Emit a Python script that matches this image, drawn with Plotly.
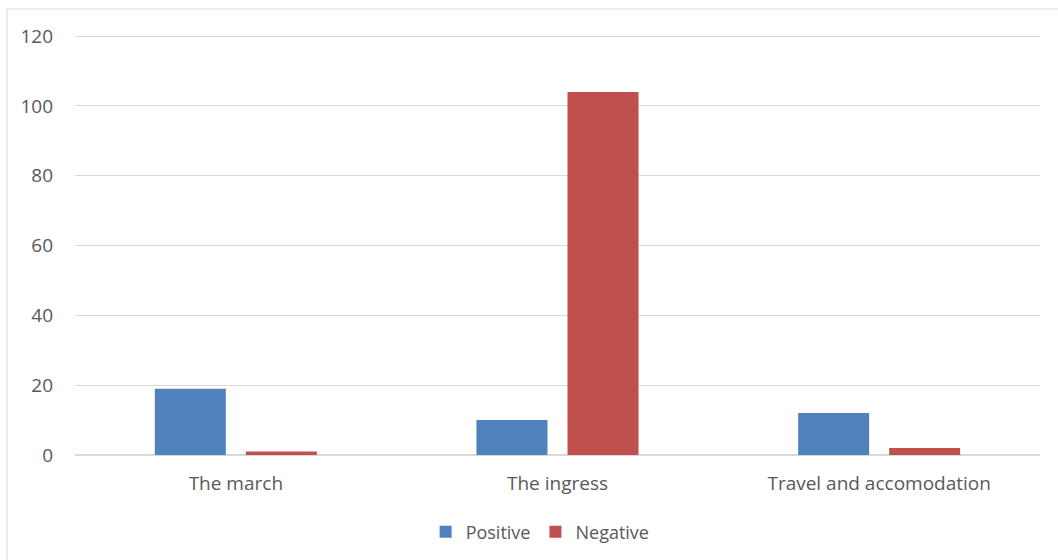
import plotly.graph_objects as go

categories = ["The march", "The ingress", "Travel and accomodation"]
positive = [19, 10, 12]
negative = [1, 104, 2]
y_ticks = [0, 20, 40, 60, 80, 100, 120]

font_family = "Open Sans, Lato, sans-serif"
text_color = "#595959"

fig = go.Figure()
fig.add_trace(go.Bar(name="Positive", x=categories, y=positive,
                     marker=dict(color="#4F81BD", line=dict(width=0))))
fig.add_trace(go.Bar(name="Negative", x=categories, y=negative,
                     marker=dict(color="#C0504D", line=dict(width=0))))

fig.update_layout(
    width=1058, height=560,
    margin=dict(l=75, r=18, t=35, b=105, autoexpand=False),
    paper_bgcolor="white", plot_bgcolor="white",
    barmode="group", bargap=0.434, bargroupgap=0.22,
    font=dict(family=font_family, color=text_color, size=19),
    showlegend=True,
    legend=dict(orientation="h", x=0.482, xanchor="center",
                yref="container", y=0.05, yanchor="middle",
                font=dict(size=18, color=text_color), itemwidth=30,
                traceorder="normal"),
    xaxis=dict(showgrid=False, showline=False, ticks="", ticklabelstandoff=15,
               tickfont=dict(size=19, color=text_color)),
    yaxis=dict(range=[0, 120.3], tickvals=y_ticks, showgrid=True, gridcolor="#d9d9d9",
               gridwidth=1, zeroline=True, zerolinecolor="#d9d9d9", zerolinewidth=2,
               showline=False, ticks="", ticklabelstandoff=21,
               tickfont=dict(size=19, color=text_color)),
    shapes=[dict(type="rect", xref="paper", yref="paper",
                 x0=-0.0705, x1=1.05, y0=-0.4, y1=1.0619,
                 line=dict(color="#d9d9d9", width=1), fillcolor="rgba(0,0,0,0)",
                 layer="below")],
)

fig.write_html("out.html")
